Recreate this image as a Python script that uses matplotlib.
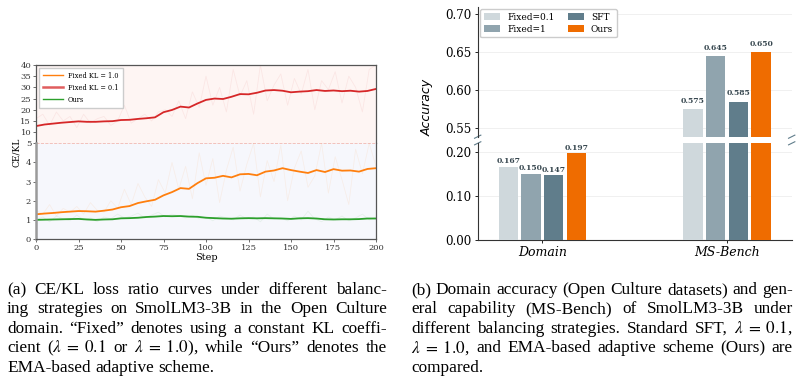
import numpy as np
import matplotlib.pyplot as plt

plt.rcParams['mathtext.fontset'] = 'stix'

# ---- data: CE/KL ratio curves (left panel) ----
steps_raw = np.arange(0, 201, 4)
red_raw = [16, 18, 13, 19, 15, 17, 12, 18, 14, 16, 17, 13, 15, 22, 14, 16, 18, 15,
           19, 20, 17, 24, 16, 28, 21, 35, 22, 30, 19, 38, 26, 33, 18, 40, 24, 31,
           36, 22, 34, 27, 38, 20, 33, 29, 37, 23, 35, 30, 19, 38, 40]
orange_raw = [1.5, 1.3, 1.8, 1.2, 1.6, 1.4, 1.7, 1.3, 1.9, 1.5, 1.4, 2.0, 1.6, 2.6,
              1.8, 2.9, 2.2, 1.7, 3.1, 2.4, 4.0, 2.6, 3.8, 2.1, 4.5, 2.8, 4.2, 1.9,
              3.6, 4.8, 2.5, 3.9, 5.0, 2.2, 4.1, 3.0, 4.9, 2.0, 3.7, 4.6, 2.7, 3.3,
              5.0, 2.4, 4.3, 3.1, 1.8, 4.7, 3.4, 5.0, 3.8]
green_raw = [1.0, 1.15, 0.9, 1.2, 1.05, 0.95, 1.25, 1.0, 1.1, 0.9, 1.15, 1.05, 1.3,
             1.1, 1.2, 1.35, 1.1, 1.25, 1.4, 1.15, 1.3, 1.2, 1.1, 1.25, 1.05, 1.15,
             0.95, 1.2, 1.1, 1.0, 1.25, 1.05, 1.15, 0.9, 1.3, 1.05, 1.1, 0.95, 1.2,
             1.0, 1.45, 1.05, 0.9, 1.15, 1.0, 1.2, 0.95, 1.1, 1.3, 1.0, 1.15]

steps = np.arange(0, 201, 5)
red_smooth = [12.7, 13.4, 13.8, 14.2, 14.5, 14.8, 14.6, 14.6, 14.8, 14.9, 15.4, 15.5,
              15.9, 16.2, 16.6, 18.9, 19.9, 21.4, 21.0, 22.8, 24.4, 25.0, 24.8, 25.8,
              27.0, 26.9, 27.6, 28.6, 28.8, 28.5, 27.8, 28.1, 28.3, 28.8, 28.4, 28.6,
              28.3, 28.5, 28.1, 28.4, 29.3]
orange_smooth = [1.29, 1.33, 1.36, 1.40, 1.43, 1.46, 1.45, 1.43, 1.48, 1.54, 1.66, 1.72,
                 1.88, 1.97, 2.05, 2.28, 2.45, 2.66, 2.62, 2.92, 3.17, 3.20, 3.30, 3.22,
                 3.38, 3.40, 3.33, 3.52, 3.58, 3.70, 3.60, 3.52, 3.45, 3.60, 3.50, 3.65,
                 3.57, 3.58, 3.52, 3.66, 3.70]
green_smooth = [1.00, 1.01, 1.02, 1.03, 1.04, 1.05, 1.02, 1.00, 1.02, 1.03, 1.08, 1.09,
                1.11, 1.15, 1.17, 1.20, 1.19, 1.20, 1.17, 1.16, 1.11, 1.09, 1.07, 1.06,
                1.08, 1.09, 1.08, 1.09, 1.08, 1.07, 1.05, 1.08, 1.09, 1.07, 1.03, 1.02,
                1.03, 1.03, 1.04, 1.07, 1.07]

# ---- data: accuracy bars (right panel) ----
groups = ['Domain', 'MS-Bench']
methods = ['Fixed=0.1', 'Fixed=1', 'SFT', 'Ours']
acc = {
    'Fixed=0.1': [0.167, 0.575],
    'Fixed=1': [0.150, 0.645],
    'SFT': [0.147, 0.585],
    'Ours': [0.197, 0.650],
}
bar_colors = ['#cfd8dc', '#90a4ae', '#607d8b', '#ef6c00']

caption_a = [
    "(a) CE/KL loss ratio curves under different balanc-",
    "ing strategies on SmolLM3-3B in the Open Culture",
    "domain. \u201cFixed\u201d denotes using a constant KL coeffi-",
    "cient ($\\lambda\\;=\\;0.1$ or $\\lambda\\;=\\;1.0$), while \u201cOurs\u201d denotes the",
    "EMA-based adaptive scheme.",
]
caption_b = [
    "(b) Domain accuracy (Open Culture datasets) and gen-",
    "eral capability (MS-Bench) of SmolLM3-3B under",
    "different balancing strategies. Standard SFT, $\\lambda\\;=\\;0.1$,",
    "$\\lambda\\;=\\;1.0$, and EMA-based adaptive scheme (Ours) are",
    "compared.",
]

W, H = 808, 382
fig = plt.figure(figsize=(W / 100, H / 100), dpi=100)


def box(x0, y0, x1, y1):
    # pixel box (top-left origin) -> figure fraction rect
    return [x0 / W, 1 - y1 / H, (x1 - x0) / W, (y1 - y0) / H]


serif = 'DejaVu Serif'
c_orange, c_red, c_green = '#ff7f0e', '#d62728', '#2ca02c'

# ---------------- left panel ----------------
ax_t = fig.add_axes(box(36, 65, 376, 143.3))
ax_b = fig.add_axes(box(36, 143.3, 376, 239))
ax_t.set_facecolor('#fef5f3')
ax_b.set_facecolor('#f6f7fc')

ax_t.plot(steps_raw, red_raw, color=c_red, lw=0.6, alpha=0.07)
ax_t.plot(steps, red_smooth, color=c_red, lw=1.3)
ax_b.plot(steps_raw, orange_raw, color=c_orange, lw=0.6, alpha=0.08)
ax_b.plot(steps_raw, green_raw, color=c_green, lw=0.6, alpha=0.08)
ax_b.plot(steps, orange_smooth, color=c_orange, lw=1.3)
ax_b.plot(steps, green_smooth, color=c_green, lw=1.3)

ax_t.set_ylim(5, 40)
ax_t.set_yticks(range(10, 41, 5))
ax_b.set_ylim(0, 5)
ax_b.set_yticks(range(0, 6))
for a in (ax_t, ax_b):
    a.set_xlim(0, 200)
    a.tick_params(labelsize=6, length=2, width=0.5, pad=1.5, colors='#333333')
    for lab in a.get_xticklabels() + a.get_yticklabels():
        lab.set_family(serif)
    for s in a.spines.values():
        s.set_color('#555555')
        s.set_linewidth(0.9)
ax_b.spines['left'].set_color('#9a9a9a')
ax_b.spines['left'].set_linewidth(1.8)
ax_t.spines['bottom'].set_visible(False)
ax_b.spines['top'].set_visible(False)
ax_t.tick_params(axis='x', bottom=False, labelbottom=False)
ax_b.axhline(5, color='#f2b8b0', lw=0.6, ls='--', zorder=0)
ax_b.set_xticks(range(0, 201, 25))
ax_b.set_xlabel('Step', family=serif, fontsize=7, labelpad=1)
fig.text(17 / W, 1 - 152 / H, 'CE/KL', family=serif, fontsize=6.5,
         rotation=90, ha='center', va='center')

handles = [
    plt.Line2D([], [], color=c_orange, lw=1.0),
    plt.Line2D([], [], color=c_red, lw=1.8, alpha=0.75),
    plt.Line2D([], [], color=c_green, lw=1.0),
]
ax_t.legend(handles, ['Fixed KL = 1.0', 'Fixed KL = 0.1', 'Ours'],
            loc='upper left', prop={'family': serif, 'size': 4.8},
            frameon=True, framealpha=1, edgecolor='#cccccc', fancybox=False,
            handlelength=3, borderpad=0.6, labelspacing=0.6, borderaxespad=0.4)

# ---------------- right panel ----------------
bx_t = fig.add_axes(box(477.7, 6.7, 791.7, 136.7))
bx_b = fig.add_axes(box(477.7, 143.3, 791.7, 240))
xc = np.arange(len(groups))
step_w = 0.123
bw = 0.105
for i, m in enumerate(methods):
    off = (i - 1.5) * step_w
    for a in (bx_t, bx_b):
        a.bar(xc + off, acc[m], width=bw, color=bar_colors[i], label=m, zorder=3)
    for j, v in enumerate(acc[m]):
        target = bx_b if v < 0.3 else bx_t
        dy = 0.004 if v < 0.3 else 0.006
        target.text(xc[j] + off, v + dy, f'{v:.3f}', ha='center', va='bottom',
                    family=serif, fontsize=5.5, fontweight='bold', color='#37474f')

bx_t.set_ylim(0.539, 0.71)
bx_t.set_yticks([0.55, 0.60, 0.65, 0.70])
bx_b.set_ylim(0, 0.22)
bx_b.set_yticks([0.00, 0.10, 0.20])
for a in (bx_t, bx_b):
    a.set_xlim(-0.35, 1.35)
    a.set_facecolor('white')
    a.grid(axis='y', color='#eeeeee', lw=0.6, zorder=0)
    a.spines['top'].set_visible(False)
    a.spines['right'].set_visible(False)
    a.spines['left'].set_color('#333333')
    a.spines['left'].set_linewidth(0.8)
    a.tick_params(axis='y', labelsize=8.5, length=2.5, width=0.6, pad=2)
    for lab in a.get_yticklabels():
        lab.set_family(serif)
bx_t.yaxis.set_major_formatter(plt.FormatStrFormatter('%.2f'))
bx_b.yaxis.set_major_formatter(plt.FormatStrFormatter('%.2f'))
bx_t.spines['bottom'].set_visible(False)
bx_t.tick_params(axis='x', bottom=False, labelbottom=False)
bx_b.spines['bottom'].set_color('#333333')
bx_b.spines['bottom'].set_linewidth(0.8)
bx_b.set_xticks(xc)
bx_b.set_xticklabels(groups, family=serif, style='italic', fontsize=9)
bx_b.tick_params(axis='x', length=2.5, width=0.6, pad=2)

# break marks: short diagonal ticks centred on each cut edge
kw = dict(color='#607d8b', lw=0.8, clip_on=False)
for xf in (0.0, 1.0):
    bx_t.plot([xf - 0.01, xf + 0.01], [-0.012, 0.012], transform=bx_t.transAxes, **kw)
    bx_b.plot([xf - 0.01, xf + 0.01], [0.984, 1.016], transform=bx_b.transAxes, **kw)

bx_t.legend(loc='upper left', ncol=2, prop={'family': serif, 'size': 6.5},
            frameon=True, framealpha=1, edgecolor='#cccccc', fancybox=True,
            handlelength=1.8, handleheight=0.8, columnspacing=1.4,
            borderaxespad=0.3, labelspacing=0.3, borderpad=0.4)
fig.text(427 / W, 1 - 107 / H, 'Accuracy', family='DejaVu Sans', style='italic',
         fontsize=9, rotation=90, ha='center', va='center')


# ---------------- captions (justified) ----------------
def caption(lines, x0, x1, y0, lh, fs):
    rend = fig.canvas.get_renderer()
    for i, line in enumerate(lines):
        words = line.split(' ')
        y = 1 - (y0 + i * lh) / H
        texts = [fig.text(0, y, w, family='Liberation Serif', fontsize=fs,
                          va='baseline', ha='left') for w in words]
        widths = [t.get_window_extent(rend).width for t in texts]
        if i < len(lines) - 1 and len(words) > 1:
            gap = (x1 - x0 - sum(widths)) / (len(words) - 1)
        else:
            gap = fs * 0.25 * 100 / 72
        x = x0
        for t, w in zip(texts, widths):
            t.set_x(x / W)
            x += w + gap


caption(caption_a, 7, 387, 294, 19.4, 12.4)
caption(caption_b, 411, 793, 294, 19.4, 12.4)

fig.savefig('out.png', dpi=100)
